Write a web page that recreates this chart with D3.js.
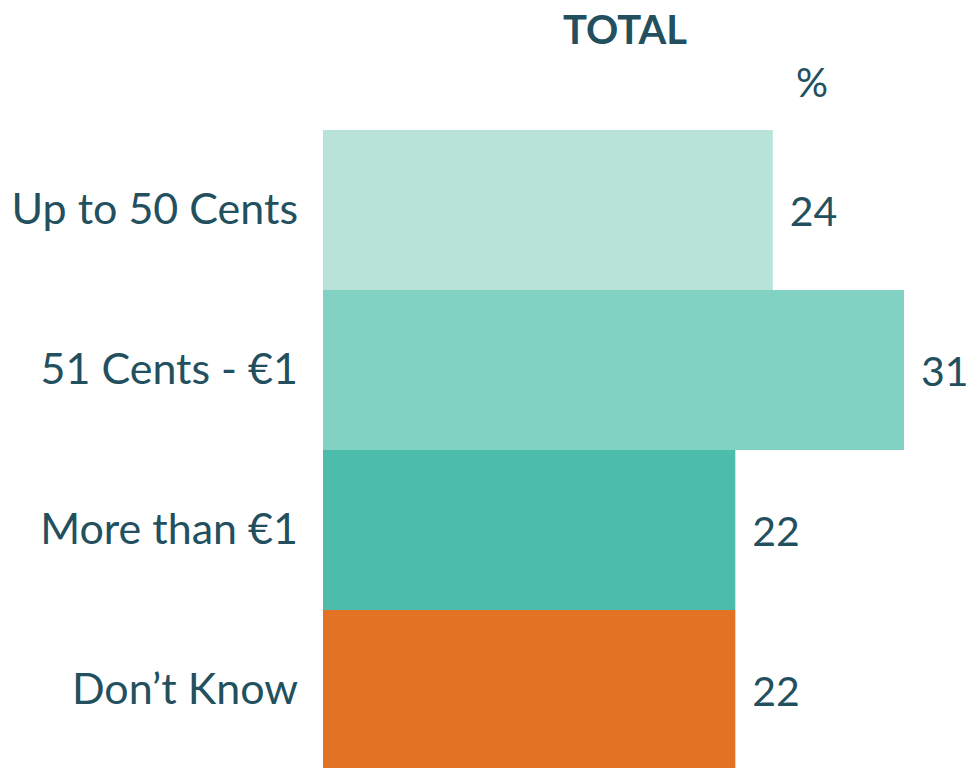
<!DOCTYPE html>
<html>
<head>
<meta charset="utf-8">
<script src="https://cdn.jsdelivr.net/npm/d3@7"></script>
<style>
  html, body { margin: 0; padding: 0; background: #ffffff; }
  svg { display: block; }
  text { font-family: Lato, "Open Sans", sans-serif; fill: #23505E; }
</style>
</head>
<body>
<svg id="chart" width="970" height="768"></svg>
<script>
const categories = ["Up to 50 Cents", "51 Cents - €1", "More than €1", "Don\u2019t Know"];
const values = [24, 31, 22, 22];
const barColors = ["#B8E3D9", "#82D2C3", "#4CBDAA", "#E37224"];
const titleText = "TOTAL";
const unitText = "%";

const svg = d3.select("#chart");
const x0 = 323;
const x = d3.scaleLinear().domain([0, 31]).range([x0, 904]);
const y = d3.scaleBand().domain(categories).range([130, 770]).padding(0);

svg.append("g").selectAll("rect")
  .data(categories)
  .join("rect")
  .attr("x", x(0))
  .attr("y", d => y(d))
  .attr("width", (d, i) => x(values[i]) - x(0))
  .attr("height", y.bandwidth())
  .attr("fill", (d, i) => barColors[i]);

svg.append("g").selectAll("text")
  .data(categories)
  .join("text")
  .attr("x", x0 - 25)
  .attr("y", d => y(d) + y.bandwidth() / 2 + 14)
  .attr("text-anchor", "end")
  .style("font-size", "43px")
  .text(d => d);

svg.append("g").selectAll("text")
  .data(categories)
  .join("text")
  .attr("x", (d, i) => x(values[i]) + 17)
  .attr("y", d => y(d) + y.bandwidth() / 2 + 16)
  .style("font-size", "41px")
  .text((d, i) => values[i]);

svg.append("text")
  .attr("x", 625)
  .attr("y", 44)
  .attr("text-anchor", "middle")
  .style("font-size", "40px")
  .style("font-weight", "bold")
  .text(titleText);

svg.append("text")
  .attr("x", 812)
  .attr("y", 97)
  .attr("text-anchor", "middle")
  .style("font-size", "40px")
  .text(unitText);
</script>
</body>
</html>
